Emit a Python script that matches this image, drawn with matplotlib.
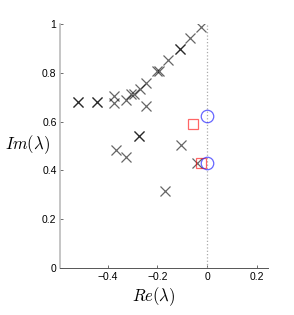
import numpy as np
import matplotlib
matplotlib.use("Agg")
import matplotlib.pyplot as plt

plt.rcParams['font.family'] = ['Liberation Sans', 'DejaVu Sans']
plt.rcParams['mathtext.fontset'] = 'cm'

# eigenvalues (crosses)
re_x = [-0.521, -0.521, -0.444, -0.444, -0.376, -0.376, -0.327, -0.307, -0.295,
        -0.271, -0.246, -0.246, -0.201, -0.193, -0.159, -0.109, -0.109,
        -0.069, -0.024, -0.273, -0.273, -0.368, -0.327, -0.105, -0.170, -0.042]
im_x = [0.679, 0.679, 0.680, 0.680, 0.705, 0.678, 0.689, 0.713, 0.713,
        0.735, 0.760, 0.664, 0.806, 0.806, 0.851, 0.896, 0.896,
        0.941, 0.989, 0.540, 0.540, 0.484, 0.456, 0.505, 0.316, 0.432]
# squares
re_sq = [-0.058, -0.025]
im_sq = [0.590, 0.432]
# circles
re_c = [-0.001, -0.001]
im_c = [0.623, 0.432]

fig = plt.figure(figsize=(2.94, 3.15), dpi=100)
ax = fig.add_axes([0.204, 0.149, 0.708, 0.775])

ax.plot([0, 0], [0, 1], linestyle=':', color='#aaaaaa', linewidth=0.9)
ax.plot(re_x, im_x, 'x', color='black', alpha=0.6, markersize=7.5, markeredgewidth=0.9)
ax.plot(re_sq, im_sq, 's', markerfacecolor='none', markeredgecolor='red', alpha=0.6,
        markersize=7, markeredgewidth=0.9)
ax.plot(re_c, im_c, 'o', markerfacecolor='none', markeredgecolor='blue', alpha=0.6,
        markersize=9, markeredgewidth=0.9)

ax.set_xlim(-0.593, 0.246)
ax.set_ylim(0, 1)
ax.set_xticks([-0.4, -0.2, 0, 0.2])
ax.set_xticklabels(['\u22120.4', '\u22120.2', '0', '0.2'])
ax.set_yticks([0, 0.2, 0.4, 0.6, 0.8, 1])
ax.set_yticklabels(['0', '0.2', '0.4', '0.6', '0.8', '1'])
ax.tick_params(direction='in', length=2.5, labelsize=7.5, width=0.6, pad=2.5,
               color='#555555')

for s in ['top', 'right']:
    ax.spines[s].set_visible(False)
ax.spines['left'].set_linewidth(1.1)
ax.spines['left'].set_color('#b5b5b5')
ax.spines['bottom'].set_linewidth(0.7)
ax.spines['bottom'].set_color('#555555')

ax.set_xlabel(r'$Re(\lambda)$', fontsize=12)
ax.xaxis.set_label_coords(0.45, -0.07)
ax.set_ylabel(r'$Im(\lambda)$', fontsize=12, rotation=0, ha='center', va='center')
ax.yaxis.set_label_coords(-0.155, 0.505)

plt.savefig('out.png', dpi=100)
